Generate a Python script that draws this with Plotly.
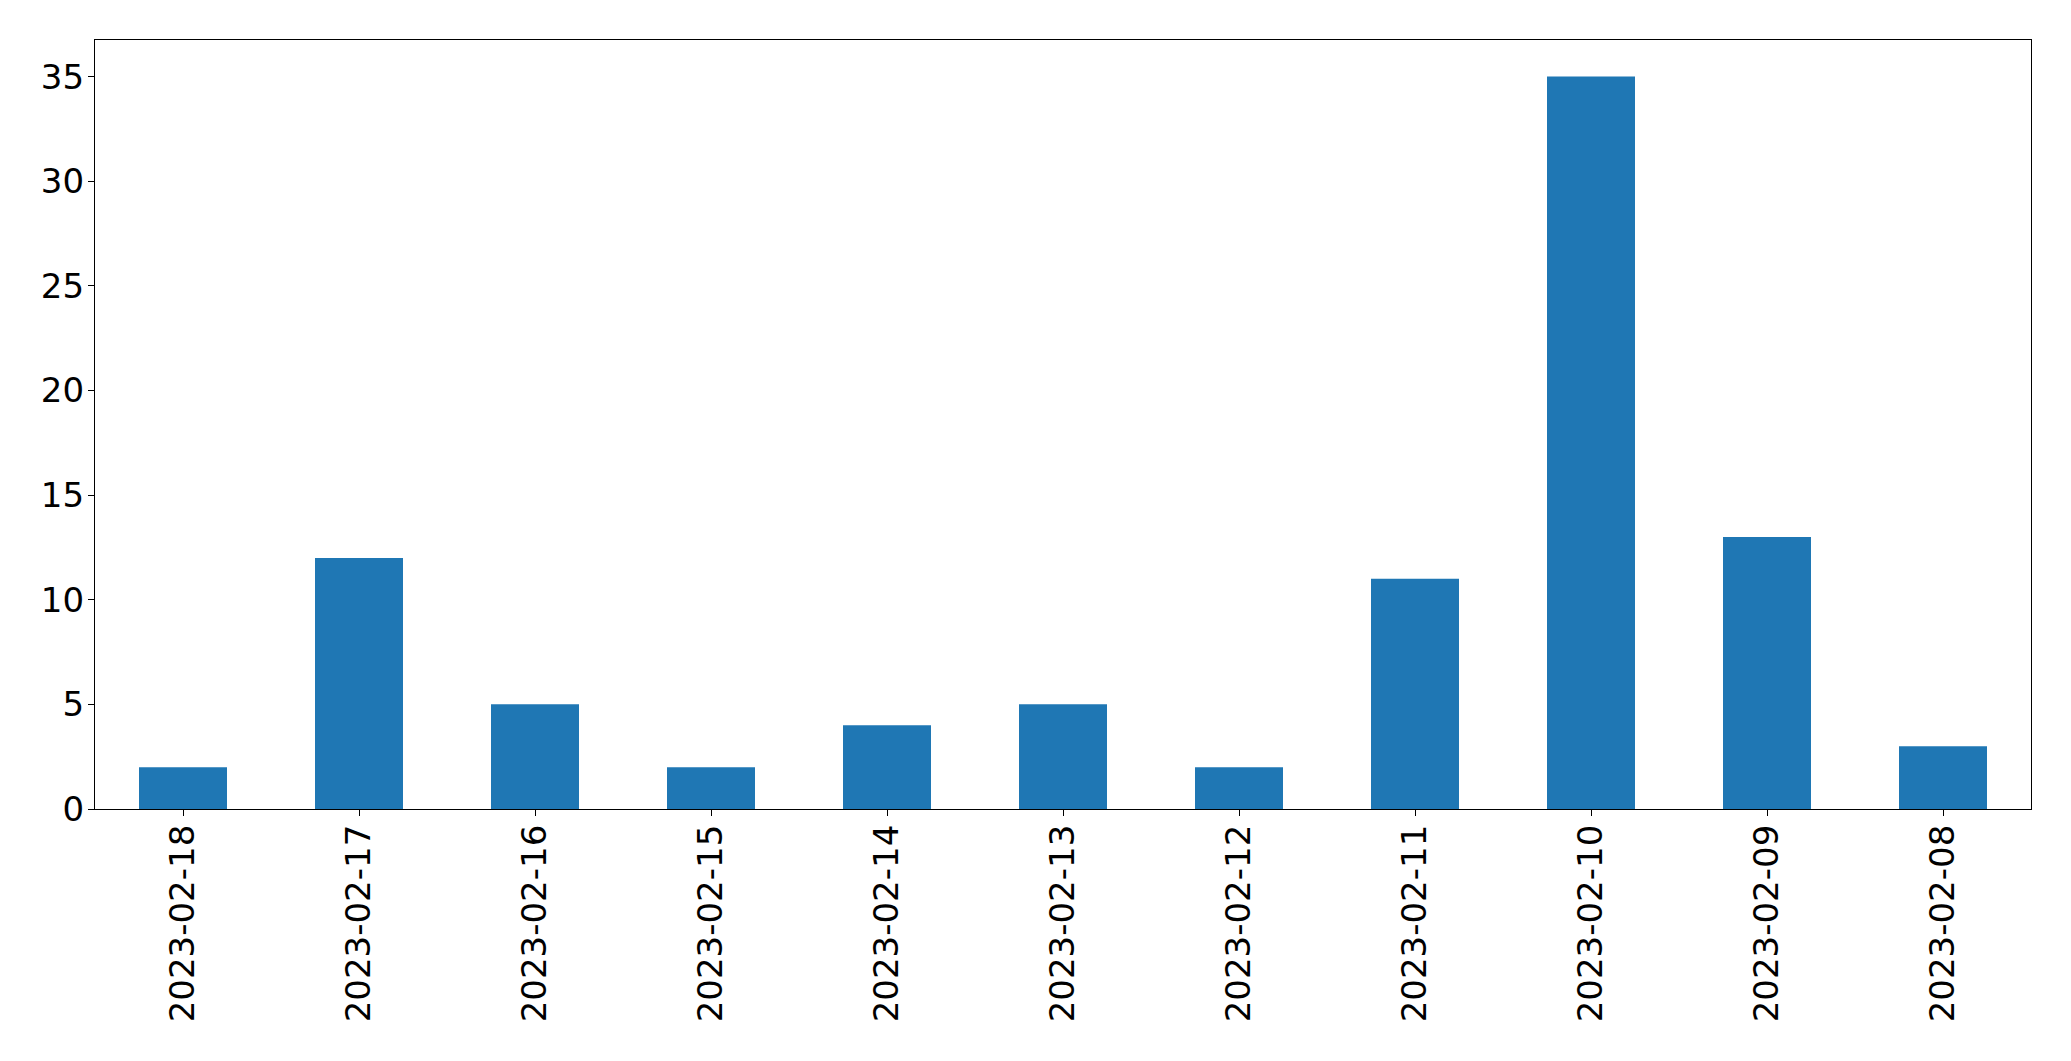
import plotly.graph_objects as go

dates = ["2023-02-18", "2023-02-17", "2023-02-16", "2023-02-15", "2023-02-14",
         "2023-02-13", "2023-02-12", "2023-02-11", "2023-02-10", "2023-02-09", "2023-02-08"]
counts = [2, 12, 5, 2, 4, 5, 2, 11, 35, 13, 3]
y_ticks = [0, 5, 10, 15, 20, 25, 30, 35]

fig = go.Figure(go.Bar(x=dates, y=counts, marker=dict(color="#1f77b4", line=dict(width=0)), width=0.5))

fig.update_layout(
    width=2071, height=1061, autosize=False,
    margin=dict(l=94.5, r=39.5, t=39.5, b=252, pad=0),
    paper_bgcolor="white", plot_bgcolor="white",
    font=dict(family="DejaVu Sans", size=34, color="black"),
    showlegend=False,
    bargap=0.5,
)
fig.update_xaxes(
    type="category", range=[-0.5, 10.5], tickangle=-90,
    showline=True, mirror=True, linecolor="black", linewidth=1.3,
    ticks="outside", ticklen=6, tickwidth=1.3, tickcolor="black",
    showgrid=False, zeroline=False, ticklabelstandoff=-5,
    tickfont=dict(family="DejaVu Sans", size=34, color="black"),
)
fig.update_yaxes(
    range=[0, 36.75], tickvals=y_ticks,
    showline=True, mirror=True, linecolor="black", linewidth=1.3,
    ticks="outside", ticklen=6, tickwidth=1.3, tickcolor="black",
    showgrid=False, zeroline=False, ticklabelstandoff=-3,
    tickfont=dict(family="DejaVu Sans", size=34, color="black"),
)
fig.write_html("out.html")
